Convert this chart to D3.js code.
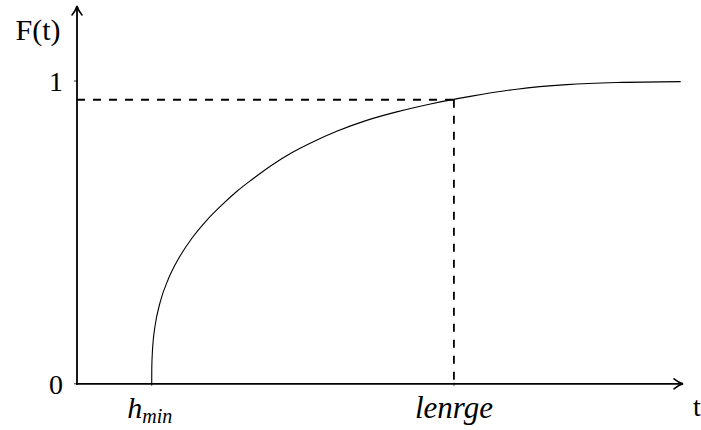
<!DOCTYPE html>
<html>
<head>
<meta charset="utf-8">
<script src="https://cdn.jsdelivr.net/npm/d3@7"></script>
<style>
html,body{margin:0;padding:0;background:#fff;}
svg{display:block;}
</style>
</head>
<body>
<svg id="chart" width="701" height="430"></svg>
<script>
// Data
const tValues = [12.33, 12.34, 12.43, 12.57, 12.87, 13.70, 15.07, 16.72, 18.93, 21.40, 23.88, 26.35, 28.83, 32.13, 35.43, 38.73, 42.85, 47.80, 52.76, 58.53, 65.13, 72.56, 80.81, 89.06, 99.62];
const fValues = [0, 0.052, 0.101, 0.142, 0.190, 0.268, 0.346, 0.412, 0.480, 0.540, 0.590, 0.635, 0.674, 0.722, 0.763, 0.797, 0.834, 0.870, 0.898, 0.925, 0.950, 0.973, 0.988, 0.995, 0.998];
const yTickValues = [0, 1];
const yTickLabels = ["0", "1"];
const hMin = 12.33;
const lenrge = 62.2;
const fAtLenrge = 0.938;

const FONT = "'Liberation Serif', 'DejaVu Serif', serif";

const svg = d3.select("#chart");
const x = d3.scaleLinear().domain([0, 100]).range([77, 683]);
const y = d3.scaleLinear().domain([0, 1]).range([383.8, 81]);

// dashed guide lines
svg.append("line")
  .attr("x1", x(0)).attr("x2", x(lenrge))
  .attr("y1", y(fAtLenrge)).attr("y2", y(fAtLenrge))
  .attr("stroke", "#000").attr("stroke-width", 1.8).attr("stroke-dasharray", "8,8");
svg.append("line")
  .attr("x1", x(lenrge)).attr("x2", x(lenrge))
  .attr("y1", y(fAtLenrge)).attr("y2", y(0))
  .attr("stroke", "#000").attr("stroke-width", 1.8).attr("stroke-dasharray", "8,8");

// curve
const pts = tValues.map((t, i) => [t, fValues[i]]);
svg.append("path")
  .datum(pts)
  .attr("fill", "none").attr("stroke", "#000").attr("stroke-width", 1.1)
  .attr("d", d3.line().x(d => x(d[0])).y(d => y(d[1])).curve(d3.curveMonotoneX));

// axes
const axisW = 1.8;
svg.append("line").attr("x1", x(0)).attr("x2", x(0)).attr("y1", y(0) + 1).attr("y2", 6)
  .attr("stroke", "#000").attr("stroke-width", axisW);
svg.append("path").attr("d", `M${x(0)-5},15 Q${x(0)-1},10 ${x(0)},6 Q${x(0)+1},10 ${x(0)+5},15`)
  .attr("fill", "none").attr("stroke", "#000").attr("stroke-width", 1.6).attr("stroke-linecap", "round");
svg.append("line").attr("x1", x(0) - 1).attr("x2", 683).attr("y1", y(0)).attr("y2", y(0))
  .attr("stroke", "#000").attr("stroke-width", axisW);
svg.append("path").attr("d", `M674,${y(0)-5} Q679,${y(0)-1} 683,${y(0)} Q679,${y(0)+1} 674,${y(0)+5}`)
  .attr("fill", "none").attr("stroke", "#000").attr("stroke-width", 1.6).attr("stroke-linecap", "round");

// y ticks
yTickValues.forEach((v, i) => {
  svg.append("line").attr("x1", x(0) - 3).attr("x2", x(0) + 1).attr("y1", y(v)).attr("y2", y(v))
    .attr("stroke", "#000").attr("stroke-width", 0.8);
  svg.append("text").attr("x", 63).attr("y", y(v) + 10).attr("text-anchor", "end")
    .attr("font-family", FONT).attr("font-size", 28).text(yTickLabels[i]);
});
// x ticks
[hMin, lenrge].forEach(v => {
  svg.append("line").attr("x1", x(v)).attr("x2", x(v)).attr("y1", y(0) - 1).attr("y2", y(0) + 2)
    .attr("stroke", "#000").attr("stroke-width", 0.8);
});

// labels
svg.append("text").attr("x", 38).attr("y", 40).attr("text-anchor", "middle")
  .attr("font-family", FONT).attr("font-size", 30).text("F(t)");
svg.append("text").attr("x", 697).attr("y", 416).attr("text-anchor", "middle")
  .attr("font-family", FONT).attr("font-size", 28).text("t");
const hl = svg.append("text").attr("x", x(hMin) - 2).attr("y", 418).attr("text-anchor", "middle")
  .attr("font-family", FONT).attr("font-size", 30).attr("font-style", "italic");
hl.append("tspan").text("h");
hl.append("tspan").attr("font-size", 20).attr("dy", 5).text("min");
svg.append("text").attr("x", x(lenrge)).attr("y", 418).attr("text-anchor", "middle")
  .attr("font-family", FONT).attr("font-size", 31).attr("font-style", "italic").text("lenrge");
</script>
</body>
</html>
